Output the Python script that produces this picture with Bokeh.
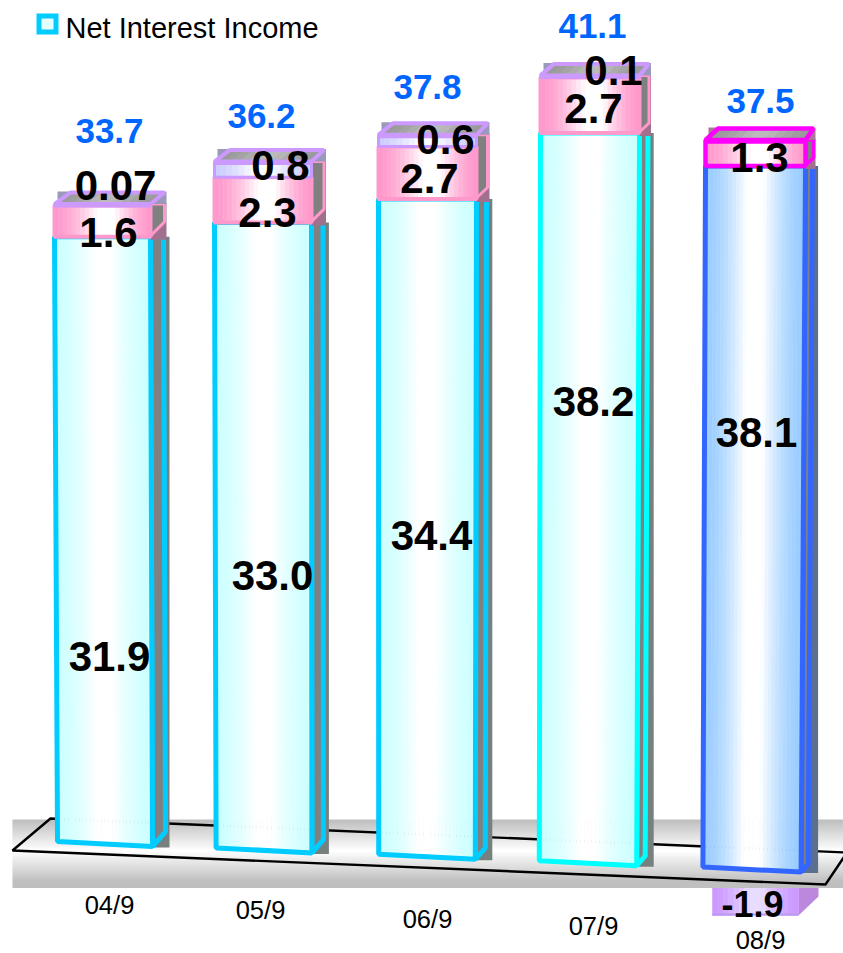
from bokeh.plotting import figure
from bokeh.models import Range1d
from bokeh.core.properties import value
from bokeh.embed import file_html
from bokeh.resources import INLINE

# ---- chart values (billions) ----
periods = ["04/9", "05/9", "06/9", "07/9", "08/9"]
net_interest = [31.9, 33.0, 34.4, 38.2, 38.1]
middle_income = [1.6, 2.3, 2.7, 2.7, 1.3]
other_income = [0.07, 0.8, 0.6, 0.1, -1.9]
totals = [33.7, 36.2, 37.8, 41.1, 37.5]
legend_label = "Net Interest Income"

# ---- page layout ----
W, H = 843, 953
UNIT = 19.05          # page pixels per unit of value
ZERO_PX = 841         # page row of value zero for the first column
BASE_STEP = 6.4       # the floor falls away by this much per column
FLOOR_SLANT = 5       # drop across one column's foot
SLOT_X = 54
SLOT_STEP = 163
SLOT_NUDGE = [0, -3, -2, -3, -1]
MAIN_STRETCH = [0.995, 0.995, 1.0, 1.0, 0.966]
UPPER_STRETCH = [1.03, 1.03, 1.02, 1.08, 1.05]

EDGE = ["#00CCFF", "#00CCFF", "#00CCFF", "#00FFFF", "#3366FF"]
GRAD_SIDE = ["#CCFFFF", "#CCFFFF", "#CCFFFF", "#CCFFFF", "#99CCFF"]
PINK, PURPLE, MAGENTA = "#FF99CC", "#CC99FF", "#FF00FF"
INK, BLUE_TEXT = "#000000", "#0066FF"
FONT = value("Liberation Sans")


def mix(c1, c2, t):
    a = [int(c1[k:k + 2], 16) for k in (1, 3, 5)]
    b = [int(c2[k:k + 2], 16) for k in (1, 3, 5)]
    return "#%02X%02X%02X" % tuple(round(x + (y - x) * t) for x, y in zip(a, b))


def band_color(side, centre, t, peak=0.5):
    """Edge colour at t=0 and t=1 fading to the centre colour at t=peak."""
    d = t / peak if t < peak else (1 - t) / (1 - peak)
    return mix(side, centre, min(1.0, d * 1.2) ** 1.6)


def dy(px):
    return px / UNIT


p = figure(width=W, height=H, output_backend="svg", toolbar_location=None,
           x_range=Range1d(0, W),
           y_range=Range1d(-(H - ZERO_PX) / UNIT, ZERO_PX / UNIT),
           x_axis_type=None, y_axis_type=None, min_border=0,
           outline_line_color=None, background_fill_color="white",
           border_fill_color="white")
p.extra_y_ranges["page"] = Range1d(H, 0)


def poly(xs, ys, fill, line=None, lw=0, alpha=1.0):
    p.patch(xs, ys, fill_color=fill, fill_alpha=alpha, line_color=line, line_width=lw)


def gradient(tl, tr, br, bl, side, centre, n=22, peak=0.5):
    """Horizontal colour sweep across a four-cornered face, built from slim strips."""
    xs, ys, cols = [], [], []
    for k in range(n):
        a, b = k / n, (k + 1) / n
        t_a = (tl[0] + (tr[0] - tl[0]) * a, tl[1] + (tr[1] - tl[1]) * a)
        t_b = (tl[0] + (tr[0] - tl[0]) * b, tl[1] + (tr[1] - tl[1]) * b)
        b_a = (bl[0] + (br[0] - bl[0]) * a, bl[1] + (br[1] - bl[1]) * a)
        b_b = (bl[0] + (br[0] - bl[0]) * b, bl[1] + (br[1] - bl[1]) * b)
        xs.append([t_a[0], t_b[0], b_b[0], b_a[0]])
        ys.append([t_a[1], t_b[1], b_b[1], b_a[1]])
        cols.append(band_color(side, centre, (a + b) / 2, peak))
    p.patches(xs, ys, fill_color=cols, line_color=cols, line_width=0.6)


# ---- the part of the lowest column that hangs below the floor ----
neg = other_income[4]
neg_left, neg_right = 712, 798
neg_top_px, neg_depth = 880, 19
neg_top = (ZERO_PX - neg_top_px) / UNIT
neg_bot = neg_top + neg * MAIN_STRETCH[4]
poly([neg_right, neg_right + neg_depth + 1, neg_right + neg_depth + 1, neg_right],
     [neg_bot, neg_bot + dy(neg_depth), neg_top, neg_top], "#BB88DD")
gradient((neg_left, neg_top), (neg_right, neg_top), (neg_right, neg_bot), (neg_left, neg_bot),
         PURPLE, "#E8DCFF", n=16)
p.line([neg_left, neg_right], [neg_bot + dy(1), neg_bot + dy(1)], line_color="#BB99EE", line_width=2)

# ---- floor: a grey-white-grey band with the outlined slab on it ----
band_top, band_mid, band_bot = 819, 849, 887
rows = list(range(band_top, band_bot, 2))
p.quad(left=12, right=W, top=rows, bottom=[r + 2.5 for r in rows], y_range_name="page",
       line_color=None,
       fill_color=[mix("#BFBFBF", "#FFFFFF", (r - band_top) / (band_mid - band_top)) if r < band_mid
                   else mix("#FFFFFF", "#BFBFBF", min(1, (r - band_mid) / (band_bot - 7 - band_mid)))
                   for r in rows])
p.line([860, 50, 12, 825, 860], [852.6, 818, 850, 884, 832], y_range_name="page",
       line_color=INK, line_width=2.4)

# ---- columns ----
for i in range(5):
    shift = -BASE_STEP * i
    foot_l = dy(shift)
    foot_r = dy(shift - FLOOR_SLANT)
    left_t = SLOT_X + SLOT_STEP * i + SLOT_NUDGE[i]
    right_t = left_t + 96 + i
    left_b = left_t + 3 - 1.4 * i
    right_b = right_t + 2 - 1.6 * i
    depth = 13 - 1.5 * i
    back_l = 16 - 0.8 * i
    back_up = 11.5
    edge = EDGE[i]

    top_main = foot_l + net_interest[i] * MAIN_STRETCH[i]
    top_mid = top_main + middle_income[i] * UPPER_STRETCH[i]
    top_all = top_mid + max(other_income[i], 0) * UPPER_STRETCH[i]

    # Side of the lower block: shadow plate, outlined side face
    poly([right_b, right_b + 17, right_b + 17, right_b],
         [foot_r - dy(1), foot_r - dy(1), top_main, top_main], "#76807F" if i < 4 else "#5B7090")
    ex = right_b + depth
    poly([right_b, ex, ex + (right_t - right_b), right_t],
         [foot_r, foot_r + dy(depth * 1.15), top_main, top_main], "#808080", edge, 5)

    # Front of the lower block
    gradient((left_t, top_main), (right_t, top_main), (right_b, foot_r), (left_b, foot_l),
             GRAD_SIDE[i], "#FFFFFF", n=26)
    p.patch([left_t, right_t, right_b, left_b], [top_main, top_main, foot_r, foot_l],
            fill_color=None, line_color=edge, line_width=5)

    # Middle block
    box_line = MAGENTA if i == 4 else PINK
    box_lw = 4.5 if i == 4 else 4
    xs_r = right_t + depth + 3
    poly([right_t, xs_r, xs_r, right_t],
         [top_main - dy(3), top_main - dy(3), top_all + dy(1), top_all + dy(1)], "#A0708C")
    poly([right_t, xs_r - 2, xs_r - 2, right_t],
         [top_main + dy(1), top_main + dy(depth * 1.15), top_all, top_all], "#808080", box_line, box_lw - 1)
    gradient((left_t, top_mid), (right_t, top_mid), (right_t, top_main), (left_t, top_main),
             PINK, "#FFFFFF", n=22, peak=0.55)
    p.patch([left_t, right_t, right_t, left_t], [top_mid, top_mid, top_main, top_main],
            fill_color=None, line_color=box_line, line_width=box_lw)

    # Upper block, where it rises above the middle one
    if other_income[i] > 0:
        gradient((left_t, top_all), (right_t, top_all), (right_t, top_mid), (left_t, top_mid),
                 "#CCCCFF", "#FFFFFF", n=16)
        p.patch([left_t, right_t, right_t, left_t], [top_all, top_all, top_mid, top_mid],
                fill_color=None, line_color=PURPLE, line_width=3)

    # Lid of the column
    lid = MAGENTA if i == 4 else PURPLE
    poly([left_t + 3, xs_r, xs_r, left_t + 3],
         [top_all, top_all, top_all + dy(back_up + 1), top_all + dy(back_up + 1)],
         "#AA7799" if i == 4 else "#9999BB")
    gradient((left_t + back_l, top_all + dy(back_up)), (right_t + depth + 1, top_all + dy(back_up)),
             (right_t, top_all), (left_t, top_all), "#999999", "#BBBBBB", n=12)
    p.patch([left_t, left_t + back_l, right_t + depth + 1, right_t],
            [top_all, top_all + dy(back_up), top_all + dy(back_up), top_all],
            fill_color=None, line_color=lid, line_width=box_lw)
    p.line([left_t, right_t], [top_all - dy(1.5), top_all - dy(1.5)], line_color=lid, line_width=box_lw)

# ---- legend ----
p.quad(left=38.5, right=55.5, top=15.5, bottom=31.5, y_range_name="page",
       fill_color="#E6FFFF", line_color="#00CCFF", line_width=5, line_join="miter")
p.text([65], [27], text=[legend_label], y_range_name="page", text_font=FONT,
       text_font_size="29px", text_color=INK, text_baseline="middle", text_align="left")


# ---- labels ----
def fmt(v):
    return f"{v:.2f}" if abs(v) < 0.1 else f"{v:.1f}"


main_label_xy = [(109, 656), (272, 575), (431, 535), (593, 401), (756, 432)]
mid_label_xy = [(108, 232), (267, 212), (429, 178), (593, 108), (759, 157)]
other_label_xy = [(115, 185), (280, 165), (445, 139), (613, 70)]
total_label_xy = [(109, 130), (261, 115), (427, 86), (592, 25), (760, 100)]
period_label_xy = [(109, 904), (260, 909), (427, 918), (593, 925), (760, 939)]


def labels(xy, texts, size, color, style="bold"):
    p.text([c[0] for c in xy], [c[1] for c in xy], text=texts, y_range_name="page",
           text_font=FONT, text_font_size=size, text_font_style=style, text_color=color,
           text_align="center", text_baseline="middle")


labels(main_label_xy, [fmt(v) for v in net_interest], "42px", INK)
labels(mid_label_xy, [fmt(v) for v in middle_income], "42px", INK)
labels(other_label_xy, [fmt(v) for v in other_income[:4]], "42px", INK)
labels([(752, 903)], [fmt(other_income[4])], "36px", INK)
labels(total_label_xy, [fmt(v) for v in totals], "35px", BLUE_TEXT)
labels(period_label_xy, periods, "25.5px", INK, "normal")

open("out.html", "w").write(file_html(p, INLINE))
